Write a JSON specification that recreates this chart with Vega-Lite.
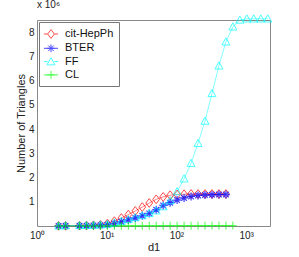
{
  "$schema": "https://vega.github.io/schema/vega-lite/v6.json",
  "width": 233,
  "height": 206,
  "autosize": "none",
  "padding": {"left": 37, "top": 20, "right": 29, "bottom": 31},
  "background": "white",
  "config": {
    "font": "Liberation Sans",
    "view": {"stroke": "#888", "strokeWidth": 1},
    "axis": {"grid": false, "domain": false, "labelColor": "#222", "titleColor": "#222", "labelFontSize": 10, "titleFontSize": 11, "titleFontWeight": "normal", "tickColor": "#777", "tickSize": 0}
  },
  "title": {"text": "x 10⁶", "anchor": "start", "frame": "group", "fontSize": 10, "fontWeight": "normal", "color": "#222", "offset": 3},
  "data": {"values": [
    {"s": "cit-HepPh", "d1": 2.04, "t": 0.005}, {"s": "cit-HepPh", "d1": 2.57, "t": 0.008}, {"s": "cit-HepPh", "d1": 4.07, "t": 0.015}, {"s": "cit-HepPh", "d1": 5.13, "t": 0.02}, {"s": "cit-HepPh", "d1": 6.46, "t": 0.03}, {"s": "cit-HepPh", "d1": 8.13, "t": 0.05}, {"s": "cit-HepPh", "d1": 10.23, "t": 0.1}, {"s": "cit-HepPh", "d1": 12.88, "t": 0.2}, {"s": "cit-HepPh", "d1": 16.22, "t": 0.33}, {"s": "cit-HepPh", "d1": 20.42, "t": 0.47}, {"s": "cit-HepPh", "d1": 25.7, "t": 0.62}, {"s": "cit-HepPh", "d1": 32.36, "t": 0.78}, {"s": "cit-HepPh", "d1": 40.74, "t": 0.95}, {"s": "cit-HepPh", "d1": 51.29, "t": 1.1}, {"s": "cit-HepPh", "d1": 64.57, "t": 1.2}, {"s": "cit-HepPh", "d1": 81.28, "t": 1.27}, {"s": "cit-HepPh", "d1": 102.3, "t": 1.3}, {"s": "cit-HepPh", "d1": 128.8, "t": 1.31}, {"s": "cit-HepPh", "d1": 162.2, "t": 1.32}, {"s": "cit-HepPh", "d1": 204.2, "t": 1.32}, {"s": "cit-HepPh", "d1": 257.0, "t": 1.32}, {"s": "cit-HepPh", "d1": 323.6, "t": 1.32}, {"s": "cit-HepPh", "d1": 407.4, "t": 1.32}, {"s": "cit-HepPh", "d1": 512.9, "t": 1.32},
    {"s": "BTER", "d1": 2.04, "t": 0.003}, {"s": "BTER", "d1": 2.57, "t": 0.005}, {"s": "BTER", "d1": 4.07, "t": 0.01}, {"s": "BTER", "d1": 5.13, "t": 0.015}, {"s": "BTER", "d1": 6.46, "t": 0.02}, {"s": "BTER", "d1": 8.13, "t": 0.03}, {"s": "BTER", "d1": 10.23, "t": 0.05}, {"s": "BTER", "d1": 12.88, "t": 0.1}, {"s": "BTER", "d1": 16.22, "t": 0.17}, {"s": "BTER", "d1": 20.42, "t": 0.25}, {"s": "BTER", "d1": 25.7, "t": 0.33}, {"s": "BTER", "d1": 32.36, "t": 0.42}, {"s": "BTER", "d1": 40.74, "t": 0.52}, {"s": "BTER", "d1": 51.29, "t": 0.67}, {"s": "BTER", "d1": 64.57, "t": 0.85}, {"s": "BTER", "d1": 81.28, "t": 0.96}, {"s": "BTER", "d1": 102.3, "t": 1.07}, {"s": "BTER", "d1": 128.8, "t": 1.16}, {"s": "BTER", "d1": 162.2, "t": 1.22}, {"s": "BTER", "d1": 204.2, "t": 1.26}, {"s": "BTER", "d1": 257.0, "t": 1.28}, {"s": "BTER", "d1": 323.6, "t": 1.29}, {"s": "BTER", "d1": 407.4, "t": 1.3}, {"s": "BTER", "d1": 512.9, "t": 1.3},
    {"s": "FF", "d1": 2.04, "t": 0.01}, {"s": "FF", "d1": 2.57, "t": 0.015}, {"s": "FF", "d1": 4.07, "t": 0.02}, {"s": "FF", "d1": 5.13, "t": 0.03}, {"s": "FF", "d1": 6.46, "t": 0.04}, {"s": "FF", "d1": 8.13, "t": 0.05}, {"s": "FF", "d1": 10.23, "t": 0.08}, {"s": "FF", "d1": 12.88, "t": 0.13}, {"s": "FF", "d1": 16.22, "t": 0.2}, {"s": "FF", "d1": 20.42, "t": 0.27}, {"s": "FF", "d1": 25.7, "t": 0.35}, {"s": "FF", "d1": 32.36, "t": 0.43}, {"s": "FF", "d1": 40.74, "t": 0.52}, {"s": "FF", "d1": 51.29, "t": 0.63}, {"s": "FF", "d1": 64.57, "t": 0.8}, {"s": "FF", "d1": 81.28, "t": 1.05}, {"s": "FF", "d1": 102.3, "t": 1.42}, {"s": "FF", "d1": 128.8, "t": 1.95}, {"s": "FF", "d1": 162.2, "t": 2.59}, {"s": "FF", "d1": 204.2, "t": 3.41}, {"s": "FF", "d1": 257.0, "t": 4.33}, {"s": "FF", "d1": 323.6, "t": 5.47}, {"s": "FF", "d1": 407.4, "t": 6.61}, {"s": "FF", "d1": 512.9, "t": 7.6}, {"s": "FF", "d1": 645.7, "t": 8.22}, {"s": "FF", "d1": 812.8, "t": 8.5}, {"s": "FF", "d1": 1023, "t": 8.55}, {"s": "FF", "d1": 1288, "t": 8.55}, {"s": "FF", "d1": 1622, "t": 8.55}, {"s": "FF", "d1": 2042, "t": 8.55},
    {"s": "CL", "d1": 2.04, "t": 0.001}, {"s": "CL", "d1": 2.57, "t": 0.001}, {"s": "CL", "d1": 4.07, "t": 0.002}, {"s": "CL", "d1": 5.13, "t": 0.002}, {"s": "CL", "d1": 6.46, "t": 0.003}, {"s": "CL", "d1": 8.13, "t": 0.003}, {"s": "CL", "d1": 10.23, "t": 0.004}, {"s": "CL", "d1": 12.88, "t": 0.005}, {"s": "CL", "d1": 16.22, "t": 0.006}, {"s": "CL", "d1": 20.42, "t": 0.007}, {"s": "CL", "d1": 25.7, "t": 0.008}, {"s": "CL", "d1": 32.36, "t": 0.009}, {"s": "CL", "d1": 40.74, "t": 0.01}, {"s": "CL", "d1": 51.29, "t": 0.01}, {"s": "CL", "d1": 64.57, "t": 0.012}, {"s": "CL", "d1": 81.28, "t": 0.012}, {"s": "CL", "d1": 102.3, "t": 0.013}, {"s": "CL", "d1": 128.8, "t": 0.013}, {"s": "CL", "d1": 162.2, "t": 0.014}, {"s": "CL", "d1": 204.2, "t": 0.014}, {"s": "CL", "d1": 257.0, "t": 0.014}, {"s": "CL", "d1": 323.6, "t": 0.015}, {"s": "CL", "d1": 407.4, "t": 0.015}, {"s": "CL", "d1": 512.9, "t": 0.015}, {"s": "CL", "d1": 645.7, "t": 0.015}
  ]},
  "resolve": {"axis": {"x": "independent", "y": "independent"}},
  "layer": [
    {
      "mark": {"type": "line", "strokeWidth": 0.7, "opacity": 0.7},
      "encoding": {
        "x": {"field": "d1", "type": "quantitative", "scale": {"type": "log", "domain": [1, 2200], "nice": false},
          "axis": {"orient": "bottom", "title": "d1", "titlePadding": 1,
            "values": [1,2,3,4,5,6,7,8,9,10,20,30,40,50,60,70,80,90,100,200,300,400,500,600,700,800,900,1000,2000],
            "labelExpr": "datum.value==1?'10⁰':datum.value==10?'10¹':datum.value==100?'10²':datum.value==1000?'10³':''",
            "labelPadding": 4, "labelFlush": false, "labelOverlap": false,
            "encode": {"ticks": {"update": {"y2": {"signal": "(datum.value==1||datum.value==10||datum.value==100||datum.value==1000) ? -4 : -2.5"}}}}}},
        "y": {"field": "t", "type": "quantitative", "scale": {"domain": [0, 8.5], "nice": false, "zero": true},
          "axis": {"orient": "left", "title": "Number of Triangles", "values": [1,2,3,4,5,6,7,8], "labelPadding": 3, "titlePadding": 2,
            "encode": {"ticks": {"update": {"x2": {"value": 4}}}}}},
        "color": {"field": "s", "type": "nominal", "sort": ["cit-HepPh", "BTER", "FF", "CL"],
          "scale": {"domain": ["cit-HepPh", "BTER", "FF", "CL"], "range": ["#ff0000", "#0000ff", "#00ffff", "#00ff00"]},
          "legend": {"title": null, "orient": "top-left", "offset": 2, "padding": 5, "symbolSize": 169, "labelOffset": 7, "rowPadding": 0.3,
            "labelFontSize": 11, "labelColor": "#111", "strokeColor": "#777", "fillColor": "white", "symbolStrokeWidth": 1, "symbolOpacity": 1, "symbolFillColor": "transparent"}},
        "order": {"field": "d1", "type": "quantitative"}
      }
    },
    {
      "transform": [{"filter": "datum.s=='cit-HepPh'"}],
      "mark": {"type": "point", "filled": false, "strokeWidth": 1, "size": 64, "shape": "M0,-1.1L0.85,0L0,1.1L-0.85,0Z"},
      "encoding": {
        "x": {"field": "d1", "type": "quantitative",
          "axis": {"orient": "top", "title": null, "labels": false,
            "values": [1,2,3,4,5,6,7,8,9,10,20,30,40,50,60,70,80,90,100,200,300,400,500,600,700,800,900,1000,2000],
            "encode": {"ticks": {"update": {"y2": {"signal": "(datum.value==1||datum.value==10||datum.value==100||datum.value==1000) ? 4 : 2.5"}}}}}},
        "y": {"field": "t", "type": "quantitative",
          "axis": {"orient": "right", "title": null, "labels": false, "values": [1,2,3,4,5,6,7,8],
            "encode": {"ticks": {"update": {"x2": {"value": -4}}}}}},
        "color": {"field": "s", "type": "nominal"}
      }
    },
    {
      "transform": [{"filter": "datum.s=='BTER'"}],
      "mark": {"type": "point", "filled": false, "strokeWidth": 1.3, "size": 64, "shape": "M-1,0L1,0M0,-1L0,1M-0.7,-0.7L0.7,0.7M-0.7,0.7L0.7,-0.7"},
      "encoding": {
        "x": {"field": "d1", "type": "quantitative", "axis": null},
        "y": {"field": "t", "type": "quantitative", "axis": null},
        "color": {"field": "s", "type": "nominal"}
      }
    },
    {
      "transform": [{"filter": "datum.s=='FF'"}],
      "mark": {"type": "point", "filled": false, "strokeWidth": 1, "size": 64, "shape": "M0,-1L1,0.8L-1,0.8Z"},
      "encoding": {
        "x": {"field": "d1", "type": "quantitative", "axis": null},
        "y": {"field": "t", "type": "quantitative", "axis": null},
        "color": {"field": "s", "type": "nominal"}
      }
    },
    {
      "transform": [{"filter": "datum.s=='CL'"}],
      "mark": {"type": "point", "filled": false, "strokeWidth": 1, "size": 64, "shape": "M-1,0L1,0M0,-1L0,1"},
      "encoding": {
        "x": {"field": "d1", "type": "quantitative", "axis": null},
        "y": {"field": "t", "type": "quantitative", "axis": null},
        "color": {"field": "s", "type": "nominal"}
      }
    },
    {
      "transform": [{"filter": "datum.d1 < 0"}],
      "mark": {"type": "point", "filled": false, "strokeWidth": 1},
      "encoding": {
        "x": {"field": "d1", "type": "quantitative", "axis": null},
        "y": {"field": "t", "type": "quantitative", "axis": null},
        "color": {"field": "s", "type": "nominal"},
        "shape": {"field": "s", "type": "nominal",
          "scale": {"domain": ["cit-HepPh", "BTER", "FF", "CL"], "range": [
            "M0,-0.68L0.52,0L0,0.68L-0.52,0ZM-1.08,0L-0.52,0M0.52,0L1.08,0",
            "M-0.6,0L0.6,0M0,-0.6L0,0.6M-0.43,-0.43L0.43,0.43M-0.43,0.43L0.43,-0.43M-1.08,0L1.08,0",
            "M0,-0.6L0.62,0.5L-0.62,0.5ZM-1.08,0L-0.52,0M0.52,0L1.08,0",
            "M-0.6,0L0.6,0M0,-0.6L0,0.6M-1.08,0L1.08,0"]}}
      }
    }
  ]
}
